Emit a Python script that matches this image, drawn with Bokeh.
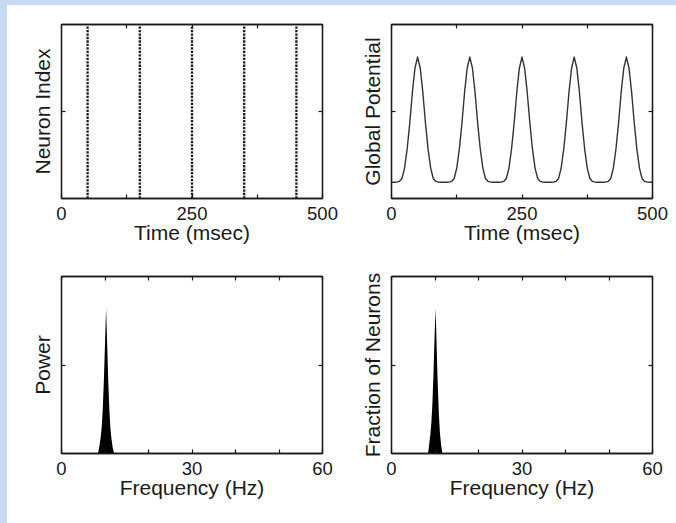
from bokeh.plotting import figure
from bokeh.models import FixedTicker, LinearAxis, Range1d, GlobalInlineStyleSheet
from bokeh.layouts import column, row
from bokeh.embed import file_html
from bokeh.resources import INLINE

# ---------------- data ----------------
# raster: every neuron fires at these times
spike_times = [50, 150, 250, 350, 450]
neuron_ids = list(range(1, 51))

# global potential sampled every 5 ms
pot_t = list(range(0, 505, 5))
pot_v = [
    0.093, 0.093, 0.094, 0.098, 0.115, 0.175, 0.285, 0.435, 0.611, 0.750,
    0.813, 0.750, 0.611, 0.435, 0.285, 0.175, 0.115, 0.098, 0.094, 0.093,
    0.093, 0.093, 0.094, 0.098, 0.115, 0.175, 0.285, 0.435, 0.611, 0.750,
    0.813, 0.750, 0.611, 0.435, 0.285, 0.175, 0.115, 0.098, 0.094, 0.093,
    0.093, 0.093, 0.094, 0.098, 0.115, 0.175, 0.285, 0.435, 0.611, 0.750,
    0.813, 0.750, 0.611, 0.435, 0.285, 0.175, 0.115, 0.098, 0.094, 0.093,
    0.093, 0.093, 0.094, 0.098, 0.115, 0.175, 0.285, 0.435, 0.611, 0.750,
    0.813, 0.750, 0.611, 0.435, 0.285, 0.175, 0.115, 0.098, 0.094, 0.093,
    0.093, 0.093, 0.094, 0.098, 0.115, 0.175, 0.285, 0.435, 0.611, 0.750,
    0.813, 0.750, 0.611, 0.435, 0.285, 0.175, 0.115, 0.098, 0.094, 0.093,
    0.093,
]

# power spectrum
power_freq = [8.4, 8.7, 9.0, 9.25, 9.5, 9.75, 10.0, 10.25, 10.5, 10.75, 11.0, 11.25, 11.5, 11.8, 12.1]
power_vals = [0.0, 0.04, 0.09, 0.15, 0.26, 0.42, 0.62, 0.82, 0.62, 0.41, 0.25, 0.14, 0.08, 0.03, 0.0]

# distribution of neuron frequencies
frac_freq = [8.4, 8.65, 8.9, 9.15, 9.4, 9.65, 9.9, 10.15, 10.4, 10.65, 10.9, 11.15, 11.4, 11.7]
frac_vals = [0.0, 0.05, 0.10, 0.17, 0.28, 0.45, 0.66, 0.82, 0.58, 0.38, 0.22, 0.11, 0.05, 0.0]

time_ticks = [0, 250, 500]
time_minor = [125, 375]
freq_ticks = [0, 30, 60]
freq_minor = [10, 20, 40, 50]

FONT = "Liberation Sans"
INK = "#1a1a1a"


def style_axis(ax):
    ax.axis_line_color = INK
    ax.axis_line_width = 1.3
    ax.major_tick_in = 4
    ax.major_tick_out = 0
    ax.minor_tick_in = 4
    ax.minor_tick_out = 0
    ax.major_tick_line_color = INK
    ax.minor_tick_line_color = INK
    ax.major_tick_line_width = 1.2
    ax.minor_tick_line_width = 1.2
    ax.major_label_text_font = FONT
    ax.major_label_text_font_size = "18.5px"
    ax.major_label_text_color = INK
    ax.axis_label_text_font = FONT
    ax.axis_label_text_font_size = "21px"
    ax.axis_label_text_font_style = "normal"
    ax.axis_label_text_color = INK


def make_fig(xr, yr, height, top, frame_h, xt, xm, ymid, xlabel, ylabel):
    p = figure(width=330, height=height, x_range=Range1d(*xr), y_range=Range1d(*yr),
               output_backend="svg", toolbar_location=None,
               min_border_left=53, min_border_right=16, min_border_top=top,
               min_border_bottom=height - top - frame_h)
    p.grid.visible = False
    p.outline_line_color = INK
    p.outline_line_width = 1.3
    p.background_fill_color = "white"
    p.border_fill_color = "white"

    xa = p.xaxis[0]
    xa.ticker = FixedTicker(ticks=xt, minor_ticks=xm)
    xa.axis_label = xlabel
    style_axis(xa)
    xa.major_label_standoff = 8
    xa.axis_label_standoff = -2

    ya = p.yaxis[0]
    ya.ticker = FixedTicker(ticks=[], minor_ticks=[ymid])
    ya.axis_label = ylabel
    style_axis(ya)
    ya.major_label_standoff = 0
    ya.axis_label_standoff = 8

    top_ax = LinearAxis(ticker=FixedTicker(ticks=[], minor_ticks=xt + xm))
    style_axis(top_ax)
    top_ax.major_label_standoff = 0
    p.add_layout(top_ax, "above")

    right_ax = LinearAxis(ticker=FixedTicker(ticks=[], minor_ticks=[ymid]))
    style_axis(right_ax)
    right_ax.major_label_standoff = 0
    p.add_layout(right_ax, "right")
    return p


# raster plot
p1 = make_fig((0, 500), (0.7, 50.9), 255, 16, 174, time_ticks, time_minor, 25.8,
              "Time (msec)", "Neuron Index")
rx = [t for t in spike_times for n in neuron_ids]
ry = [n for t in spike_times for n in neuron_ids]
p1.scatter(rx, ry, marker="square", size=2.3, color=INK, line_color=None)

# global potential
p2 = make_fig((0, 500), (0, 1), 255, 16, 175, time_ticks, time_minor, 0.5,
              "Time (msec)", "Global Potential")
p2.line(pot_t, pot_v, line_color="#333333", line_width=1.4, line_join="round")

# power spectrum
p3 = make_fig((0, 60), (0, 1), 250, 13, 177, freq_ticks, freq_minor, 0.5,
              "Frequency (Hz)", "Power")
p3.varea(x=power_freq, y1=0, y2=power_vals, fill_color="black")

# fraction of neurons
p4 = make_fig((0, 60), (0, 1), 250, 13, 177, freq_ticks, freq_minor, 0.5,
              "Frequency (Hz)", "Fraction of Neurons")
p4.varea(x=frac_freq, y1=0, y2=frac_vals, fill_color="black")

layout = column(row(p1, p2), row(p3, p4))
layout.stylesheets = [GlobalInlineStyleSheet(css="""
html { background: #c6d9f1; }
body { background: #ffffff; margin: 5px 0 0 7px !important; padding: 3px 8px 0 1px;
       min-height: calc(100vh - 5px); box-sizing: border-box; }
""")]

open("out.html", "w").write(file_html(layout, INLINE))
